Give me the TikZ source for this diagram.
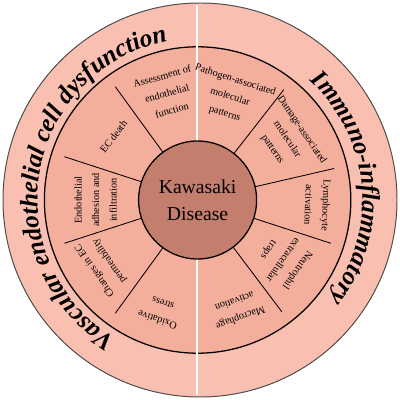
\documentclass[tikz,border=0pt]{standalone}
\usepackage{fontspec}
\setmainfont{Liberation Serif}
\usetikzlibrary{decorations.text}
\definecolor{ringout}{HTML}{F9BFB1}
\definecolor{ringin}{HTML}{F4AE9C}
\definecolor{core}{HTML}{C47E6E}
\newcommand{\ringfont}{\fontsize{18}{20}\selectfont\bfseries\itshape}

\begin{document}
\begin{tikzpicture}[
  seg/.style={align=center,font=\fontsize{7.3}{12.5}\selectfont,inner sep=0pt},
  divider/.style={line width=0.6pt},
  ringtext/.style={decorate,decoration={text along path,text align=center,text={|\ringfont|#1}}}]
\useasboundingbox (-5,-5) rectangle (5,5);
% outer ring
\draw[fill=ringout,draw=black!70,line width=0.7pt] (0,0) circle (4.925);
\path[ringtext={Vascular endothelial cell dysfunction}] (250:4.06) arc[start angle=250,end angle=90,radius=4.06];
\path[ringtext={Immuno-inflammatory}] (85:4.06) arc[start angle=85,end angle=-75,radius=4.06];
\begin{scope}[shift={(-0.06,0)}]
% inner ring
\draw[fill=ringin,line width=0.9pt] (0,0) circle (3.83);
\foreach \a in {126,162,198,234,52,13,-18,-53}
  \draw[divider] (\a:1.45) -- (\a:3.5);
\draw[white,line width=1.2pt] (-0.015,4.87) -- (-0.015,-4.87);
% centre
\draw[fill=core,line width=0.9pt] (0,0) circle (1.475);
\node[font=\fontsize{14}{19.5}\selectfont,align=center] (kd) at (0,0) {Kawasaki\\Disease};
% left half
\foreach \a/\r/\n/\t in {106/2.78/assess/{Assessment of\\endothelial\\function},
    143/2.63/ecdeath/{EC death},
    180/2.55/adhes/{Endothelial\\adhesion and\\infiltration},
    214.6/2.9/perm/{Changes in EC\\permeability},
    251.5/2.95/oxid/{Oxidative\\stress}}
  \node[seg,rotate=\a-90] (\n) at (\a:\r) {\t};
% right half
\foreach \a/\r/\n/\t in {72.5/2.7/pamp/{Pathogen-associated\\molecular\\patterns},
    34/2.7/damp/{Damage-associated\\molecular\\patterns},
    -2.4/3.0/lymph/{Lymphocyte\\activation},
    -35/2.6/net/{Neutrophil\\extracellular\\traps},
    -70/2.93/macro/{Macrophage\\activation}}
  \node[seg,rotate=\a-90] (\n) at (\a:\r) {\t};
\end{scope}
\end{tikzpicture}
\end{document}
